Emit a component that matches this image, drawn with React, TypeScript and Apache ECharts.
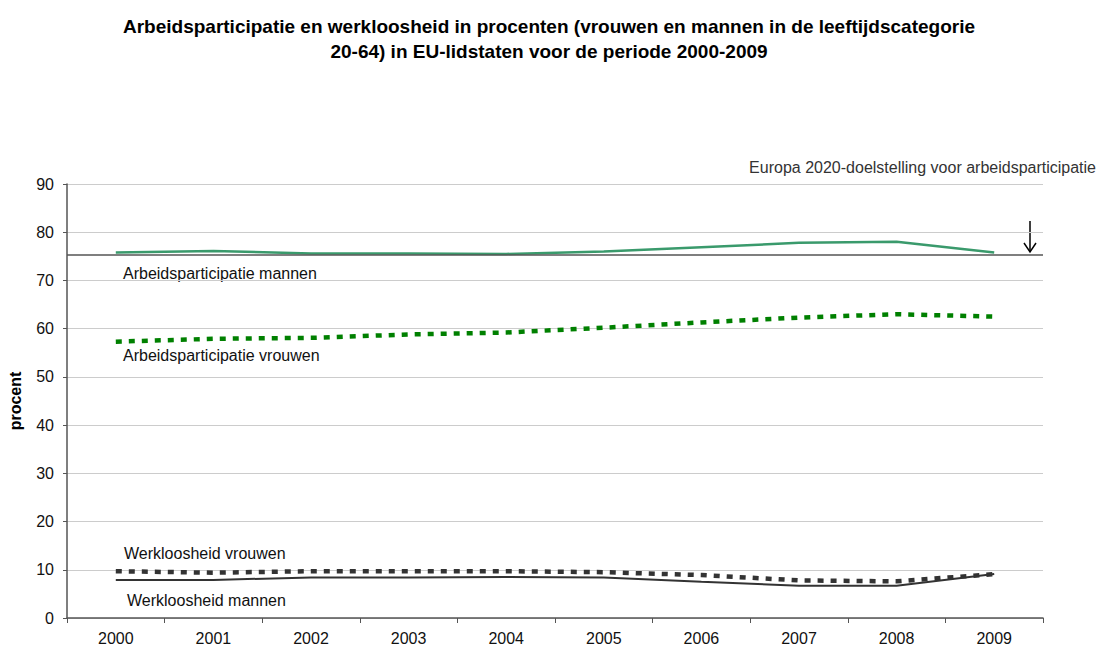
import React, { useEffect, useRef } from "react";
import * as echarts from "echarts";

const years = ["2000", "2001", "2002", "2003", "2004", "2005", "2006", "2007", "2008", "2009"];
const partMen = [75.8, 76.1, 75.6, 75.6, 75.5, 76.0, 76.9, 77.8, 78.0, 75.8];
const partWomen = [57.3, 57.9, 58.1, 58.8, 59.2, 60.2, 61.3, 62.3, 63.0, 62.5];
const unempWomen = [9.7, 9.4, 9.7, 9.7, 9.7, 9.5, 8.9, 7.8, 7.6, 9.1];
const unempMen = [7.9, 7.9, 8.4, 8.4, 8.5, 8.4, 7.5, 6.7, 6.7, 9.1];
const target2020 = 75.3;

const titleText =
  "Arbeidsparticipatie en werkloosheid in procenten (vrouwen en mannen in de leeftijdscategorie\n20-64) in EU-lidstaten voor de periode 2000-2009";

const FONT = "Liberation Sans, Arial, sans-serif";

export default function App() {
  const ref = useRef<HTMLDivElement>(null);
  useEffect(() => {
    if (!ref.current) return;
    const chart = echarts.init(ref.current, null, { renderer: "svg" });
    const labelStyle = { fontFamily: FONT, fontSize: 16, fill: "#111" };
    chart.setOption({
      animation: false,
      backgroundColor: "#fff",
      textStyle: { fontFamily: FONT },
      title: {
        text: titleText,
        left: "center",
        top: 9,
        textStyle: { fontFamily: FONT, fontSize: 19, fontWeight: "bold", color: "#000", lineHeight: 25 },
      },
      grid: { left: 67, right: 55, top: 184, bottom: 34, containLabel: false, outerBoundsMode: "none" },
      xAxis: {
        type: "category",
        data: years,
        boundaryGap: true,
        axisLine: { lineStyle: { color: "#555", width: 1.5 } },
        axisTick: { show: true, length: 5, lineStyle: { color: "#555" } },
        axisLabel: { fontFamily: FONT, fontSize: 16, color: "#111", margin: 12 },
      },
      yAxis: {
        type: "value",
        min: 0,
        max: 90,
        interval: 10,
        name: "procent",
        nameLocation: "middle",
        nameGap: 44,
        nameRotate: 90,
        nameTextStyle: { fontFamily: FONT, fontSize: 16, fontWeight: "bold", color: "#000" },
        axisLine: { show: true, lineStyle: { color: "#555", width: 1.5 } },
        axisTick: { show: true, length: 4, lineStyle: { color: "#555" } },
        axisLabel: { fontFamily: FONT, fontSize: 16, color: "#111", margin: 13 },
        splitLine: { lineStyle: { color: "#cccccc", width: 1 } },
      },
      series: [
        {
          name: "Arbeidsparticipatie mannen",
          type: "line",
          data: partMen,
          symbol: "none",
          lineStyle: { color: "#3a9a6c", width: 2.5 },
          z: 3,
          markLine: {
            silent: true,
            symbol: "none",
            label: { show: false },
            lineStyle: { color: "#555", width: 1.5, type: "solid" },
            data: [{ yAxis: target2020 }],
          },
        },
        {
          name: "Arbeidsparticipatie vrouwen",
          type: "line",
          data: partWomen,
          symbol: "none",
          lineStyle: { color: "#008000", width: 4.5, type: [6, 7] },
        },
        {
          name: "Werkloosheid vrouwen",
          type: "line",
          data: unempWomen,
          symbol: "none",
          lineStyle: { color: "#333333", width: 4.5, type: [6, 7] },
        },
        {
          name: "Werkloosheid mannen",
          type: "line",
          data: unempMen,
          symbol: "none",
          lineStyle: { color: "#333333", width: 2 },
        },
      ],
      graphic: [
        { type: "text", left: 123, top: 265, style: { ...labelStyle, text: "Arbeidsparticipatie mannen" } },
        { type: "text", left: 123, top: 347, style: { ...labelStyle, text: "Arbeidsparticipatie vrouwen" } },
        { type: "text", left: 124, top: 545, style: { ...labelStyle, text: "Werkloosheid vrouwen" } },
        { type: "text", left: 127, top: 592, style: { ...labelStyle, text: "Werkloosheid mannen" } },
        {
          type: "text",
          right: 2,
          top: 159,
          style: { ...labelStyle, fill: "#333", text: "Europa 2020-doelstelling voor arbeidsparticipatie" },
        },
        { type: "line", shape: { x1: 1030, y1: 221, x2: 1030, y2: 252 }, style: { stroke: "#000", lineWidth: 1.5 } },
        {
          type: "polyline",
          shape: { points: [[1024, 243], [1030, 252], [1036, 243]] },
          style: { stroke: "#000", lineWidth: 1.5, fill: null },
        },
      ],
    });
    return () => chart.dispose();
  }, []);
  return <div ref={ref} style={{ width: 1098, height: 652, position: "absolute", left: 0, top: 0 }} />;
}
